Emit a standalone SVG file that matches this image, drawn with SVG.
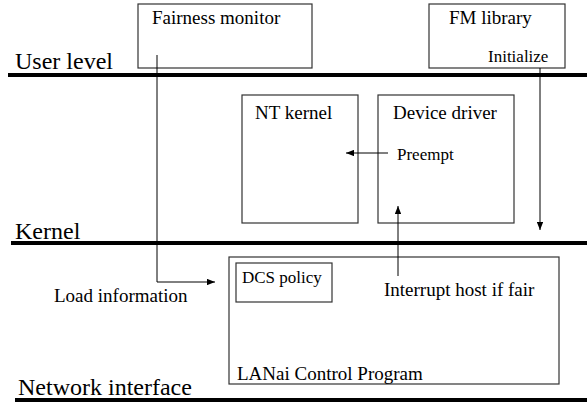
<svg xmlns="http://www.w3.org/2000/svg" width="587" height="402" viewBox="0 0 587 402" font-family="Liberation Serif, Tinos, DejaVu Serif, serif">
  <style>
    text { font-family: 'Liberation Serif', Tinos, 'DejaVu Serif', serif; fill: #000; }
    .lvl { font-size: 24px; }
    .lbl { font-size: 19px; }
    .sm { font-size: 17px; }
    .box { fill: #fff; stroke: #333; stroke-width: 1.2; }
    .bar { stroke: #000; stroke-width: 4; }
    .conn { fill: none; stroke: #000; stroke-width: 1; }
  </style>
  <defs>
    <marker id="arrow" viewBox="0 0 10 8" refX="10" refY="4" markerWidth="8" markerHeight="6.4" markerUnits="userSpaceOnUse" orient="auto">
      <path d="M0,0 L10,4 L0,8 Z" fill="#000"/>
    </marker>
  </defs>
  <rect width="587" height="402" fill="#fff"/>

  <!-- level separators -->
  <g id="levels">
    <line class="bar" x1="8" y1="75" x2="587" y2="75"/>
    <text class="lvl" x="15" y="69">User level</text>
    <line class="bar" x1="11" y1="243" x2="587" y2="243"/>
    <text class="lvl" x="15" y="239">Kernel</text>
    <line class="bar" x1="15" y1="400" x2="587" y2="400"/>
    <text class="lvl" x="18" y="395">Network interface</text>
  </g>

  <g id="fairness-monitor">
    <rect class="box" x="138" y="4" width="174" height="64"/>
    <text class="lbl" x="152" y="24">Fairness monitor</text>
  </g>

  <g id="fm-library">
    <rect class="box" x="429" y="4" width="136" height="64"/>
    <text class="lbl" x="449" y="24">FM library</text>
    <text class="sm" x="488" y="62">Initialize</text>
  </g>

  <g id="nt-kernel">
    <rect class="box" x="242" y="95" width="116" height="128"/>
    <text class="lbl" x="255" y="119">NT kernel</text>
  </g>

  <g id="device-driver">
    <rect class="box" x="378" y="95" width="136" height="128"/>
    <text class="lbl" x="393" y="119">Device driver</text>
    <text class="sm" x="397" y="160">Preempt</text>
  </g>

  <g id="lanai">
    <rect class="box" x="229" y="257" width="330" height="127"/>
    <text class="lbl" x="237" y="380">LANai Control Program</text>
  </g>

  <g id="dcs-policy">
    <rect class="box" x="236" y="263" width="96" height="39"/>
    <text class="sm" x="242" y="283">DCS policy</text>
  </g>

  <g id="connectors">
    <polyline class="conn" points="157,55 157,282 215,282" marker-end="url(#arrow)"/>
    <line class="conn" x1="540" y1="68" x2="540" y2="230" marker-end="url(#arrow)"/>
    <line class="conn" x1="388" y1="153" x2="346" y2="153" marker-end="url(#arrow)"/>
    <line class="conn" x1="398" y1="276" x2="398" y2="206" marker-end="url(#arrow)"/>
    <text class="lbl" x="54" y="302">Load information</text>
    <text class="lbl" x="384" y="296">Interrupt host if fair</text>
  </g>
</svg>
